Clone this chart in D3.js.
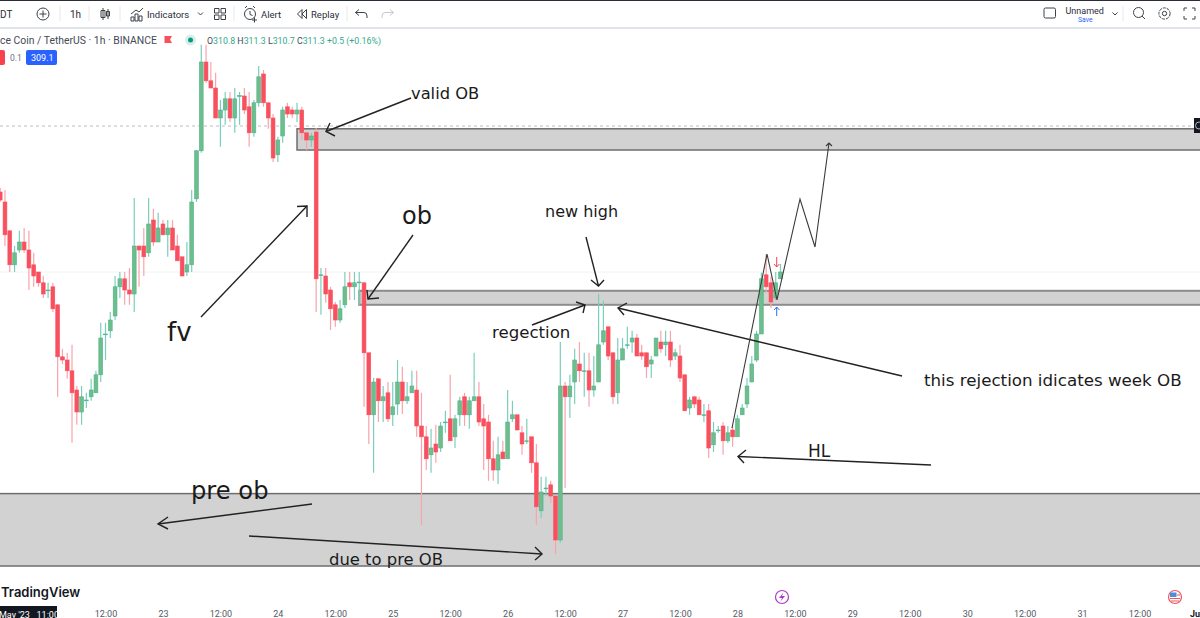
<!DOCTYPE html>
<html lang="en">
<head>
<meta charset="UTF-8">
<title>BNB / TetherUS 1h</title>
<script src="https://d3js.org/d3.v7.min.js"></script>
<style>
    html, body { margin: 0; padding: 0; background: #fff; overflow: hidden; }
    svg { display: block; }
    .ui { font-family: Roboto, sans-serif; fill: #2a2e39; }
    .note { font-family: "DejaVu Sans", sans-serif; fill: #1a1a1a; }
    .icon { fill: none; stroke: #3c4048; stroke-width: 1; }
</style>
</head>
<body>
<div id="chart"></div>
<script>
// one entry per hourly bar, starting on 21 May 14:00
const opens = [
    309.65,309.40,308.68,307.83,308.20,308.40,308.20,307.83,307.65,307.38,307.19,307.28,306.83,305.53,305.45,305.18,304.70,304.15,304.43,304.53,
    304.63,305.08,306.09,306.18,306.55,307.28,307.48,307.20,307.10,308.30,308.30,308.13,308.95,308.40,308.85,308.58,308.75,308.30,308.03,307.65,
    307.83,309.48,310.68,312.90,312.43,312.25,311.50,311.70,311.98,311.50,312.05,312.05,311.78,311.13,311.88,312.60,311.88,311.50,310.58,311.05,
    311.78,311.70,311.60,311.70,311.13,310.95,311.15,307.56,307.55,307.20,306.83,306.45,306.83,307.38,307.28,307.39,307.38,305.63,304.08,304.98,
    304.43,304.63,304.08,304.35,304.90,304.43,304.63,304.70,303.80,303.53,303.08,303.35,303.25,303.89,303.98,303.53,304.08,304.53,304.08,304.43,
    304.53,303.98,303.90,302.98,302.70,303.15,302.98,303.98,304.08,303.63,303.41,303.53,302.88,301.68,302.24,302.33,302.05,300.95,304.80,304.53,
    304.90,305.35,305.16,305.18,304.70,304.90,305.90,306.28,305.63,304.63,305.45,305.81,305.90,306.00,305.63,305.63,305.35,305.55,305.90,305.83,
    305.90,305.55,305.55,305.08,304.25,304.53,304.45,304.06,304.18,303.33,303.69,303.80,303.43,303.70,303.53,304.08,304.35,304.90,305.45,306.10,
    307.58,307.38,307.00,307.48
];
const highs = [
    309.75,309.70,308.68,308.30,308.68,308.75,308.68,308.13,307.65,307.55,307.38,307.38,306.83,305.73,305.63,305.83,304.80,304.80,304.63,304.98,
    305.18,306.38,306.38,306.65,307.55,307.65,307.65,307.75,309.50,308.30,308.75,309.50,309.23,309.13,308.95,308.95,308.95,308.58,308.03,308.40,
    309.70,310.70,313.33,313.33,312.90,312.63,311.95,312.15,312.15,312.25,312.15,312.25,312.15,311.95,312.80,312.70,311.88,311.60,311.03,311.78,
    311.88,311.78,311.88,311.78,311.13,311.13,311.25,307.75,307.75,307.28,306.90,306.95,307.65,307.65,307.65,307.65,307.38,305.63,305.00,304.98,
    304.80,304.90,304.90,305.45,305.28,304.90,305.18,305.18,304.63,303.80,303.73,303.83,303.90,304.18,305.08,304.08,304.53,304.63,304.53,305.63,
    304.90,304.35,304.08,303.43,303.53,303.43,304.70,304.43,304.08,303.80,303.98,303.53,303.35,302.53,302.53,302.43,302.05,305.90,304.90,305.08,
    305.73,305.90,305.63,305.63,305.55,307.10,306.93,306.28,305.63,306.00,306.00,306.28,306.18,306.10,305.83,305.63,305.55,306.00,306.18,306.18,
    306.18,305.73,305.83,305.08,304.53,304.53,304.53,304.35,304.35,303.90,303.80,303.90,303.80,303.80,304.08,304.35,305.00,305.55,306.18,307.63,
    308.10,307.53,307.65,307.85
];
const lows = [
    309.40,308.30,307.65,307.65,308.13,308.13,307.20,307.28,307.28,307.00,307.00,306.65,304.53,305.35,304.98,303.38,303.83,303.83,304.25,304.43,
    304.63,304.90,305.45,306.00,306.45,307.00,306.83,306.83,306.65,307.28,307.55,308.03,308.30,308.40,308.58,308.03,308.20,307.93,307.55,307.55,
    307.65,309.40,310.63,312.38,312.25,311.50,310.78,311.33,311.40,311.13,311.33,311.60,310.78,311.03,311.78,311.78,311.23,310.40,310.40,310.88,
    311.50,311.50,311.40,310.95,310.70,310.78,306.65,306.58,306.88,306.20,306.28,306.38,306.75,306.95,306.95,306.83,304.28,303.35,302.63,303.90,
    303.90,303.90,303.80,304.08,304.10,304.35,304.63,303.53,301.33,302.70,302.63,302.88,303.15,303.63,303.43,303.25,303.80,303.80,303.73,304.43,
    303.80,302.70,302.43,302.43,302.35,302.98,302.98,303.90,303.70,303.08,303.35,302.63,301.33,301.50,302.05,301.88,300.60,300.88,302.25,304.00,
    304.35,304.90,304.53,304.28,304.53,304.90,305.83,305.45,304.35,304.35,305.45,305.73,305.63,305.55,305.45,305.00,305.00,305.55,305.63,305.55,
    305.28,305.45,304.90,304.18,304.08,304.25,304.08,303.90,303.00,303.15,303.63,303.08,303.38,303.28,303.53,304.08,304.25,304.90,305.40,306.10,
    307.13,306.75,306.95,307.48
];
const closes = [
    309.45,308.58,307.83,308.13,308.40,308.20,307.75,307.55,307.38,307.10,307.20,306.73,305.53,305.45,305.18,304.63,304.15,304.53,304.45,304.70,
    305.08,306.00,306.10,306.45,307.28,307.48,307.20,307.10,308.30,308.20,308.03,308.85,308.40,308.75,308.58,308.75,308.20,307.93,307.55,307.83,
    309.40,310.68,312.90,312.43,312.25,311.50,311.70,311.98,311.50,311.98,312.06,311.70,311.13,311.88,312.53,311.88,311.50,310.50,310.95,311.70,
    311.60,311.60,311.70,311.13,310.95,311.05,307.48,307.58,307.10,306.73,306.45,306.73,307.28,307.28,307.38,307.40,305.63,304.08,304.90,304.43,
    304.53,303.98,304.28,304.90,304.43,304.53,304.80,303.80,303.53,302.98,303.25,303.15,303.80,303.90,303.43,303.98,304.43,304.08,304.43,304.53,
    303.90,303.80,302.98,302.70,303.08,302.98,303.90,304.08,303.70,303.35,303.43,302.88,301.78,302.15,302.25,302.05,300.95,304.80,304.53,304.80,
    305.45,305.18,305.18,304.70,304.80,305.83,306.18,305.55,304.53,305.45,305.73,305.83,306.00,305.55,305.55,305.28,305.45,306.00,305.73,305.90,
    305.45,305.63,305.00,304.18,304.45,304.35,304.08,304.08,303.25,303.63,303.70,303.43,303.63,303.53,303.98,304.25,304.80,305.35,306.10,307.48,
    307.28,306.90,307.38,307.65
];

// hand drawn boxes: first bar, top price, bottom price
const zoneStart = [62, 75, -2];
const zoneTop = [311.23, 307.18, 302.11];
const zoneBottom = [310.70, 306.83, 300.30];

const tickBars = [22, 34, 46, 58, 70, 82, 94, 106, 118, 130, 142, 154, 166, 178, 190, 202, 214, 226, 238, 250];
const tickLabels = ["12:00", "23", "12:00", "24", "12:00", "25", "12:00", "26", "12:00", "27", "12:00", "28", "12:00", "29", "12:00", "30", "12:00", "31", "12:00", "Jun"];

const lastPrice = 311.3;
const gridPrice = 307.65;

const width = 1200;
const height = 618;

const svg = d3.select("#chart").append("svg")
    .attr("width", width)
    .attr("height", height);

const x = d3.scaleLinear().domain([0, 250]).range([0.2, 1197]);
const y = d3.scaleLinear().domain([314.45, 300.15]).range([0, 572]);

// price lines
svg.append("line").attr("x1", 0).attr("x2", width)
    .attr("y1", y(gridPrice)).attr("y2", y(gridPrice))
    .attr("stroke", "#eef6ee").attr("stroke-width", 1);
svg.append("line").attr("x1", 0).attr("x2", width)
    .attr("y1", y(lastPrice)).attr("y2", y(lastPrice))
    .attr("stroke", "#bdbdbd").attr("stroke-width", 1).attr("stroke-dasharray", "3,3");

// zones
svg.append("g").selectAll("rect")
    .data(zoneStart)
    .enter().append("rect")
    .attr("x", d => x(d))
    .attr("width", d => width + 10 - x(d))
    .attr("y", (d, i) => y(zoneTop[i]))
    .attr("height", (d, i) => y(zoneBottom[i]) - y(zoneTop[i]))
    .attr("fill", "#d2d2d2")
    .attr("stroke", (d, i) => i === 1 ? "#8c8c8c" : "#6e6e6e")
    .attr("stroke-width", (d, i) => i === 1 ? 2 : 1.5);

// candles
const candles = svg.append("g").selectAll("g")
    .data(d3.range(opens.length))
    .enter().append("g");

candles.append("line")
    .attr("x1", i => x(i)).attr("x2", i => x(i))
    .attr("y1", i => y(highs[i])).attr("y2", i => y(lows[i]))
    .attr("stroke", i => closes[i] >= opens[i] ? "#7acfbb" : "#f9a3ac")
    .attr("stroke-width", 1.2);

candles.append("rect")
    .attr("x", i => x(i) - 1.9)
    .attr("width", 3.8)
    .attr("y", i => y(Math.max(opens[i], closes[i])))
    .attr("height", i => Math.max(0.8, Math.abs(y(opens[i]) - y(closes[i]))))
    .attr("fill", i => closes[i] >= opens[i] ? "#6fbe89" : "#f9505f")
    .attr("stroke", i => closes[i] >= opens[i] ? "#4db394" : "#f9505f")
    .attr("stroke-width", 0.6);

// drawings on top of the chart
const ink = svg.append("g")
    .attr("fill", "none").attr("stroke", "#222").attr("stroke-width", 1.4)
    .attr("stroke-linejoin", "miter");

function arrow(x1, y1, x2, y2, bx1, by1, bx2, by2) {
    ink.append("path").attr("d", `M${x1},${y1}L${x2},${y2}`);
    ink.append("path").attr("d", `M${bx1},${by1}L${x2},${y2}L${bx2},${by2}`);
}

arrow(411, 98, 326, 131.5, 330, 123, 335, 136);
arrow(201, 317, 307, 206, 297, 206.5, 307, 217);
arrow(413, 235, 368, 299, 367, 290, 379, 298);
arrow(586, 237, 598.5, 286, 591, 280, 604, 280);
arrow(532, 325, 585, 305, 576, 302, 583, 313);
arrow(902, 376, 618, 308, 627, 303, 624, 315);
arrow(931, 465, 738, 456.5, 746, 450, 744, 463);
arrow(312, 504, 158, 524, 168, 517, 168, 529);
arrow(249, 536, 542, 554, 535, 547, 535, 560);

ink.append("path")
    .attr("stroke", "#3a3a3a").attr("stroke-width", 1.1)
    .attr("d", "M732,428L767,254L777,300L800,199L815,247L829,143M826,146L829,143L832,146");

function note(text, nx, ny, size) {
    svg.append("text").attr("class", "note")
        .attr("x", nx).attr("y", ny).attr("font-size", size).text(text);
}
note("valid OB", 411, 99, 16.3);
note("ob", 402, 224, 24);
note("new high", 545, 217, 16);
note("regection", 492, 338, 16.6);
note("fv", 167, 341, 26);
note("this rejection idicates week OB", 924, 386, 16.7);
note("HL", 808, 457, 17);
note("pre ob", 191, 499, 24.2);
note("due to pre OB", 329, 565, 16.4);

// trade marks
const marks = svg.append("g").attr("fill", "none").attr("stroke-width", 1);
marks.append("path").attr("stroke", "#f7404f").attr("d", "M776.7,257V267M774,264L776.7,267L779.4,264");
marks.append("path").attr("stroke", "#2f6bff").attr("d", "M776.7,316V307M774,310L776.7,307L779.4,310");

// price label stub at the right edge
svg.append("rect").attr("x", 1194).attr("y", 118).attr("width", 6).attr("height", 15).attr("fill", "#131722");
svg.append("circle").attr("cx", 1199).attr("cy", 125.5).attr("r", 3.5).attr("fill", "none").attr("stroke", "#ddd").attr("stroke-width", 0.8);

// time axis
const axis = d3.axisBottom(x)
    .tickValues(tickBars)
    .tickFormat((d, i) => tickLabels[i])
    .tickSize(0)
    .tickPadding(0);

const axisG = svg.append("g").attr("transform", "translate(0,611)").call(axis);
axisG.select(".domain").remove();
axisG.selectAll("text")
    .attr("font-family", "Roboto, sans-serif")
    .attr("font-size", 9)
    .attr("fill", d => d === 250 ? "#131722" : "#555a66")
    .attr("font-weight", d => d === 250 ? 700 : 400);

svg.append("rect").attr("x", 0).attr("y", 606).attr("width", 57).attr("height", 12).attr("fill", "#131722");
svg.append("text").attr("class", "ui").attr("x", -1).attr("y", 617.5)
    .attr("font-size", 9).style("fill", "#fff").text("May '23\u00a0\u00a0\u00a011:00");

svg.append("text").attr("class", "ui").attr("x", 1).attr("y", 597)
    .attr("font-weight", 600).attr("font-size", 13)
    .style("font-family", "Inter, sans-serif").style("fill", "#131722").text("TradingView");

// bottom right buttons
svg.append("circle").attr("cx", 782).attr("cy", 597).attr("r", 6.5).attr("fill", "#fff").attr("stroke", "#a83cc4").attr("stroke-width", 1.2);
svg.append("path").attr("fill", "#a83cc4").attr("d", "M783.5,592.5L779,598H782L780.5,601.5L785,596H782Z");
svg.append("circle").attr("cx", 1175).attr("cy", 597).attr("r", 6.5).attr("fill", "#fff").attr("stroke", "#f0555f").attr("stroke-width", 1.2);
svg.append("rect").attr("x", 1170).attr("y", 592.5).attr("width", 6.5).attr("height", 4.5).attr("fill", "#4a8fd8");
svg.append("path").attr("stroke", "#f0555f").attr("stroke-width", 1.1).attr("d", "M1170,598.5H1180M1171,601H1179M1177,595H1180");

// toolbar
svg.append("rect").attr("x", 0).attr("y", 0).attr("width", width).attr("height", 1).attr("fill", "#2a2e39");
svg.append("rect").attr("x", 0).attr("y", 27).attr("width", width).attr("height", 2).attr("fill", "#e0e3eb");

[60, 89, 120, 234, 347, 1123].forEach(sx => {
    svg.append("line").attr("x1", sx).attr("x2", sx).attr("y1", 6).attr("y2", 21)
        .attr("stroke", "#e6e8ee").attr("stroke-width", 1);
});

function ui(text, ux, uy, size, color) {
    const t = svg.append("text").attr("class", "ui")
        .attr("x", ux).attr("y", uy).attr("font-size", size).text(text);
    if (color) t.style("fill", color);
    return t;
}
function icon(d) {
    svg.append("path").attr("class", "icon").attr("d", d);
}

ui("DT", 0, 17.5, 10);
svg.append("circle").attr("class", "icon").attr("cx", 43).attr("cy", 14).attr("r", 6);
icon("M43,10.5V17.5M39.5,14H46.5");
ui("1h", 70, 17.5, 10);
icon("M103,8V20M101,10.5H105V17.5H101ZM108,9V19M106.5,11.5H109.5V16H106.5Z");
icon("M131,21V17H134V21ZM135,21V14H138V21ZM139,21V16H142V21ZM131,14L136,10L139,12L143,8");
ui("Indicators", 147, 17.5, 9.5);
icon("M198,12.5L200.5,15L203,12.5");
icon("M214.5,8.5H219V13H214.5ZM221,8.5H225.5V13H221ZM214.5,15H219V19.5H214.5ZM221,15H225.5V19.5H221Z");
svg.append("circle").attr("class", "icon").attr("cx", 250).attr("cy", 14).attr("r", 5.5);
icon("M250,11V14.5L252.5,15.5M245,8L247,6M255,8L253,6M252,20H257M254.5,17.5V22.5");
ui("Alert", 261, 17.5, 9.5);
icon("M302,9.5L297.5,14L302,18.5ZM306.5,9.5L302,14L306.5,18.5Z");
ui("Replay", 311, 17.5, 9.5);
icon("M359,9.5L355.5,12.5L359,15.5M355.5,12.5H364Q367,12.5 367,16V18");
svg.append("path").attr("class", "icon").style("stroke", "#c5c8d0").attr("d", "M390,9.5L393.5,12.5L390,15.5M393.5,12.5H385Q382,12.5 382,16V18");

svg.append("rect").attr("class", "icon").attr("x", 1044).attr("y", 8).attr("width", 11.5).attr("height", 10).attr("rx", 1.5);
ui("Unnamed", 1065.5, 14, 9);
ui("Save", 1078, 21.5, 6.8, "#2962ff");
icon("M1112.5,12.5L1115,15L1117.5,12.5");
svg.append("circle").attr("class", "icon").attr("cx", 1138.5).attr("cy", 12.5).attr("r", 5);
icon("M1142,16L1145,19");
svg.append("circle").attr("class", "icon").attr("cx", 1164.5).attr("cy", 13.5).attr("r", 2.2);
svg.append("circle").attr("class", "icon").attr("cx", 1164.5).attr("cy", 13.5).attr("r", 5.6).attr("stroke-dasharray", "3,1");
icon("M1184,11V8H1187M1192,8H1195V11M1195,16V19H1192M1187,19H1184V16");

// symbol legend
ui("ce Coin / TetherUS · 1h · BINANCE", 0, 44, 10.4, "#444a56");
svg.append("path").attr("fill", "#f9505f").attr("d", "M164.5,36H172L170,39.5L172,43H164.5Z");
svg.append("circle").attr("cx", 190.5).attr("cy", 40).attr("r", 5.5).attr("fill", "#d6efe9");
svg.append("circle").attr("cx", 190.5).attr("cy", 40).attr("r", 2.5).attr("fill", "#089981");

const legend = ui("", 207, 44, 8.8, "#35a98e");
[["O", "#444a56"], ["310.8 ", null], ["H", "#444a56"], ["311.3 ", null], ["L", "#444a56"], ["310.7 ", null], ["C", "#444a56"], ["311.3 ", null], ["+0.5 (+0.16%)", null]]
    .forEach(p => {
        const s = legend.append("tspan").text(p[0]);
        if (p[1]) s.style("fill", p[1]);
    });

svg.append("rect").attr("x", -4).attr("y", 50).attr("width", 9).attr("height", 15).attr("rx", 2).attr("fill", "#f9404f");
ui("0.1", 10, 61, 8.5, "#6a6f7b");
svg.append("rect").attr("x", 26).attr("y", 50).attr("width", 31).attr("height", 15).attr("rx", 2).attr("fill", "#2962ff");
ui("309.1", 31, 61, 9, "#fff");
</script>
</body>
</html>
